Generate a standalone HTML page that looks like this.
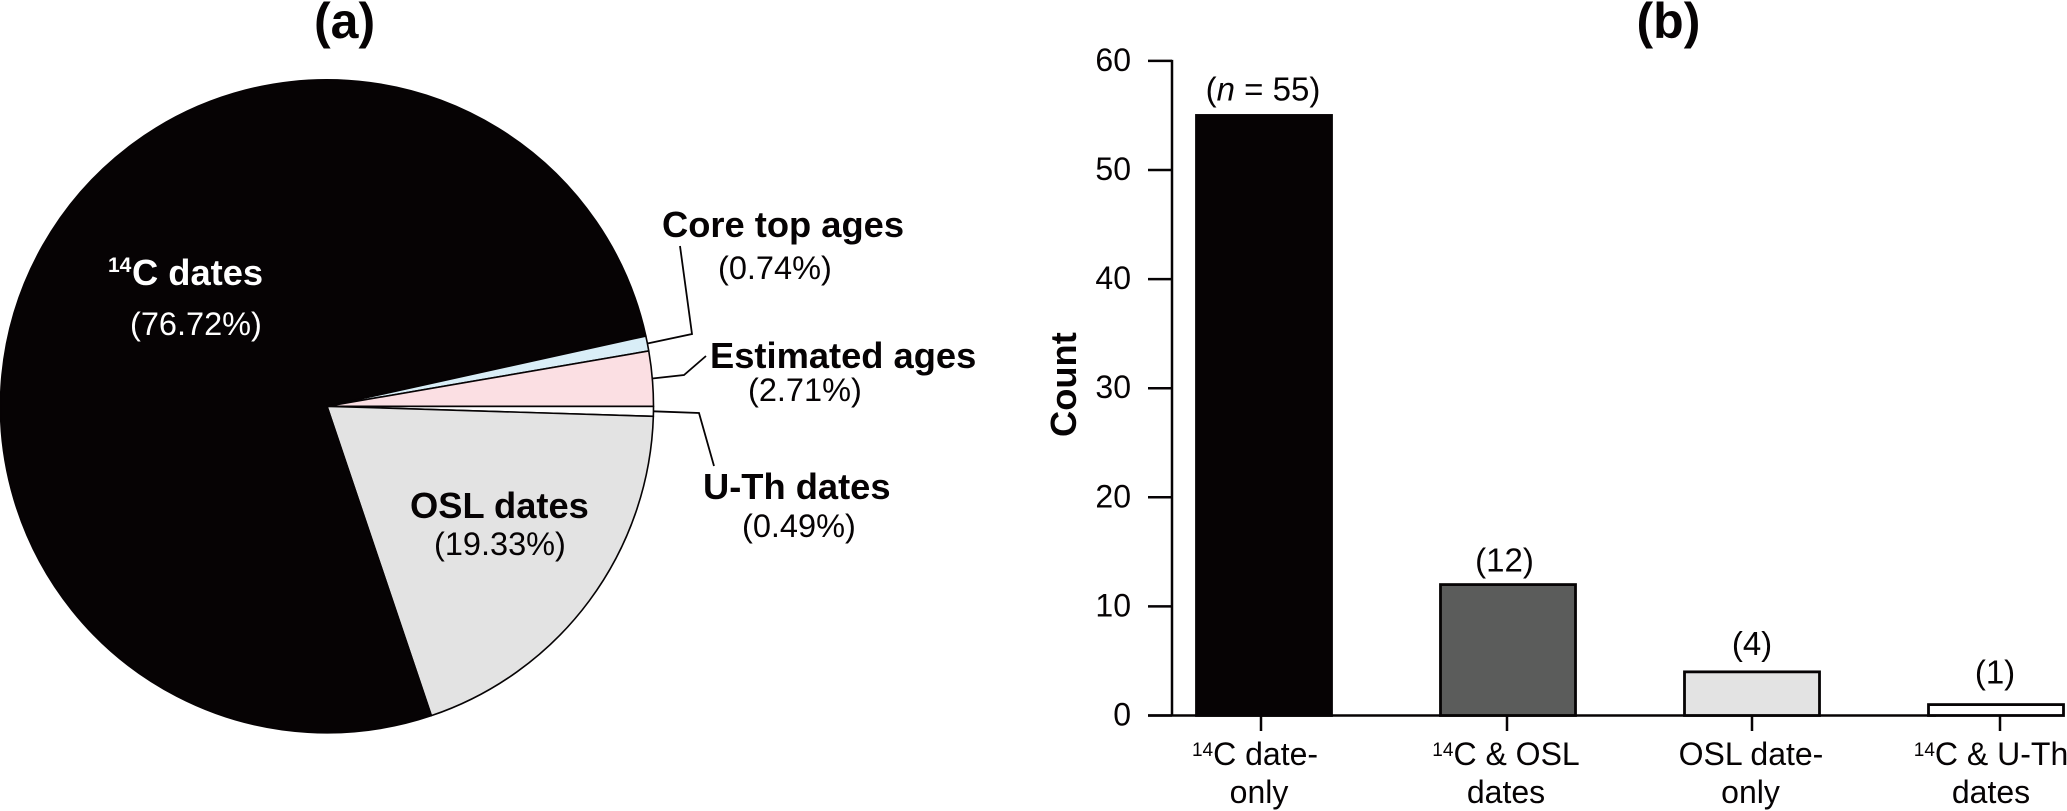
<!DOCTYPE html>
<html lang="en">
<head>
<meta charset="utf-8">
<title>Age control types: pie and bar charts</title>
<style>
html,body{margin:0;padding:0;background:#fff;}
svg{display:block;font-family:"Liberation Sans",Arial,sans-serif;}
.b{font-weight:bold;font-size:36.3px;fill:#060304;}
.r{font-size:32px;fill:#060304;}
.p{font-size:32.5px;fill:#060304;}
</style>
</head>
<body>
<svg id="chart" xmlns="http://www.w3.org/2000/svg" width="2067" height="811" viewBox="0 0 2067 811">
  <rect x="0" y="0" width="2067" height="811" fill="#fff"/>
  <g id="pie"></g>
  <g id="leaders"></g>
  <g id="bars"></g>

  <text x="314" y="38" style="font-weight:bold;font-size:50px;fill:#060304">(a)</text>
  <text x="1636.5" y="38" style="font-weight:bold;font-size:50px;fill:#060304">(b)</text>

  <text x="108" y="272" style="font-weight:bold;font-size:21px;fill:#fff">14</text>
  <text class="b" x="132" y="285" style="fill:#fff">C dates</text>
  <text class="p" x="130" y="335" style="fill:#fff">(76.72%)</text>

  <text class="b" x="410" y="518">OSL dates</text>
  <text class="p" x="434" y="555">(19.33%)</text>

  <text class="b" x="662" y="237">Core top ages</text>
  <text class="p" x="718" y="279">(0.74%)</text>

  <text class="b" x="710" y="368">Estimated ages</text>
  <text class="p" x="748" y="401">(2.71%)</text>

  <text class="b" x="703" y="499">U-Th dates</text>
  <text class="p" x="742" y="537">(0.49%)</text>

  <text class="b" transform="translate(1076,437) rotate(-90)" x="0" y="0">Count</text>
</svg>
<script>
// Pie data, clockwise starting from the 3 o'clock direction
const sliceNames = ['u-th', 'osl', 'radiocarbon', 'core-top', 'estimated'];
const sliceValues = [0.49, 19.33, 76.72, 0.74, 2.71];
const sliceColors = ['#ffffff', '#e3e3e3', '#060304', '#d9eef7', '#fbdfe3'];

// Bar data
const barCategories = ['radiocarbon-only', 'radiocarbon-and-osl', 'osl-only', 'radiocarbon-and-u-th'];
const barValues = [55, 12, 4, 1];
const barColors = ['#060304', '#5b5c5b', '#e3e3e3', '#ffffff'];
const catSup = ['14', '14', '', '14'];
const catLine1 = ['C date-', 'C & OSL', 'OSL date-', 'C & U-Th'];
const catLine2 = ['only', 'dates', 'only', 'dates'];
const yTicks = [0, 10, 20, 30, 40, 50, 60];

const NS = 'http://www.w3.org/2000/svg';
function mk(tag, attrs, parent) {
  const el = document.createElementNS(NS, tag);
  for (const k in attrs) el.setAttribute(k, attrs[k]);
  parent.appendChild(el);
  return el;
}

/* ---------- pie ---------- */
const cx = 327, cy = 406.3, R = 326.5;
const pie = document.getElementById('pie');
const total = sliceValues.reduce((a, b) => a + b, 0);
function pt(frac, r) {
  const a = frac * 2 * Math.PI;
  return [cx + r * Math.cos(a), cy + r * Math.sin(a)];
}
let acc = 0;
const midFrac = {};
sliceValues.forEach((v, i) => {
  const f0 = acc / total, f1 = (acc + v) / total;
  acc += v;
  midFrac[sliceNames[i]] = (f0 + f1) / 2;
  const p0 = pt(f0, R), p1 = pt(f1, R);
  const large = f1 - f0 > 0.5 ? 1 : 0;
  const d = `M${cx},${cy}L${p0[0]},${p0[1]}A${R},${R} 0 ${large} 1 ${p1[0]},${p1[1]}Z`;
  const path = mk('path', {d: d, fill: sliceColors[i], stroke: '#060304', 'stroke-width': 1.6, 'stroke-linejoin': 'round'}, pie);
  
  
});

/* ---------- leader lines start at the mid-angle of their slice ---------- */
const leaders = document.getElementById('leaders');
function leader(name, rest) {
  const s = pt(midFrac[name], R);
  const pts = [s.join(',')].concat(rest).join(' ');
  const line = mk('polyline', {points: pts, fill: 'none', stroke: '#060304', 'stroke-width': 1.8}, leaders);
  
  
}
leader('core-top', ['692,334', '680,246']);
leader('estimated', ['684,375', '706,356']);
leader('u-th', ['699,413', '714,466']);

/* ---------- bar chart ---------- */
const bars = document.getElementById('bars');
const y0 = 715.5, yPerUnit = 10.91;
const yScale = v => y0 - v * yPerUnit;
const xScale = i => 1264 + 244 * i;
const barW = 135;
const tickNudge = [-3, -1, 0, 4];
const line1Nudge = [-9, -2, -1, -5];
const line2Nudge = [-5, -2, -1.5, -5];
const valueNudge = [-1, -3.5, 0, -1];
const valueGap = [15, 13, 17, 21];
const ink = '#060304';

const yAxis = mk('line', {x1: 1172, x2: 1172, y1: yScale(60) - 1, y2: y0 + 1, stroke: ink, 'stroke-width': 2.5}, bars);



const xAxis = mk('line', {x1: 1148, x2: 1936, y1: y0, y2: y0, stroke: ink, 'stroke-width': 2.5}, bars);



yTicks.forEach(t => {
  const tick = mk('line', {x1: 1148, x2: 1172, y1: yScale(t), y2: yScale(t), stroke: ink, 'stroke-width': 2.5}, bars);
  
  
  const lab = mk('text', {x: 1131, y: yScale(t) + 10, 'text-anchor': 'end', class: 'r'}, bars);
  lab.textContent = String(t);
  
  
});

barValues.forEach((v, i) => {
  const cxb = xScale(i);
  const rect = mk('rect', {x: cxb - barW / 2, y: yScale(v), width: barW, height: y0 - yScale(v), fill: barColors[i], stroke: ink, 'stroke-width': 2.8}, bars);
  
  

  const tx = cxb + tickNudge[i];
  const tick = mk('line', {x1: tx, x2: tx, y1: y0, y2: y0 + 15.5, stroke: ink, 'stroke-width': 2.5}, bars);
  
  

  const val = mk('text', {x: cxb + valueNudge[i], y: yScale(v) - valueGap[i], 'text-anchor': 'middle', class: 'r', style: 'font-size:33px'}, bars);
  
  
  if (i === 0) {
    val.appendChild(document.createTextNode('('));
    const n = mk('tspan', {'font-style': 'italic'}, val);
    n.textContent = 'n';
    val.appendChild(document.createTextNode(' = ' + v + ')'));
  } else {
    val.textContent = '(' + v + ')';
  }

  const l1 = mk('text', {x: cxb + line1Nudge[i], y: 765, 'text-anchor': 'middle', class: 'r'}, bars);
  
  
  if (catSup[i]) {
    const s = mk('tspan', {'font-size': '19px', dy: '-9'}, l1);
    s.textContent = catSup[i];
    const m = mk('tspan', {dy: '9'}, l1);
    m.textContent = catLine1[i];
  } else {
    l1.textContent = catLine1[i];
  }

  const l2 = mk('text', {x: cxb + line2Nudge[i], y: 803, 'text-anchor': 'middle', class: 'r'}, bars);
  l2.textContent = catLine2[i];
  
  
});
</script>
</body>
</html>
